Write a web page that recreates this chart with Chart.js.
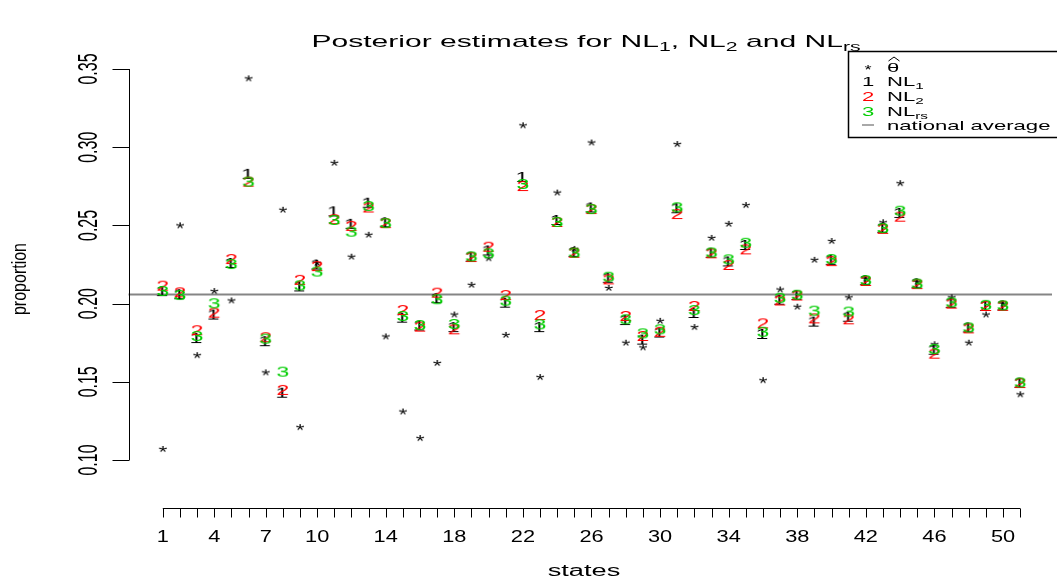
<!DOCTYPE html>
<html>
<head>
<meta charset="utf-8">
<title>Posterior estimates</title>
<script src="https://cdn.jsdelivr.net/npm/chart.js@4.4.1/dist/chart.umd.min.js"></script>
<style>
  html, body { margin: 0; padding: 0; background: #fff; }
  #wrap { width: 1057px; height: 581px; }
</style>
</head>
<body>
<div id="wrap"><canvas id="chart" width="1057" height="581"></canvas></div>
<script>
// states 1..51
var states = [];
for (var i = 1; i <= 51; i++) states.push(i);

// direct estimates (theta hat)
var thetaHat = [0.107, 0.250, 0.167, 0.208, 0.202, 0.344, 0.156, 0.260, 0.121, 0.226,
  0.290, 0.230, 0.244, 0.179, 0.131, 0.114, 0.162, 0.193, 0.212, 0.229,
  0.180, 0.314, 0.153, 0.271, 0.235, 0.303, 0.210, 0.175, 0.172, 0.189,
  0.302, 0.185, 0.242, 0.251, 0.263, 0.151, 0.209, 0.198, 0.228, 0.240,
  0.204, 0.216, 0.252, 0.277, 0.214, 0.174, 0.204, 0.175, 0.193, 0.200,
  0.142];

var nl1 = [0.208, 0.206, 0.178, 0.193, 0.226, 0.283, 0.176, 0.143, 0.211, 0.225,
  0.259, 0.251, 0.2645, 0.252, 0.191, 0.186, 0.2035, 0.185, 0.230, 0.234,
  0.2006, 0.281, 0.185, 0.2535, 0.233, 0.2615, 0.2165, 0.1895, 0.177, 0.1815,
  0.261, 0.194, 0.2325, 0.227, 0.2375, 0.1806, 0.2025, 0.2055, 0.1885, 0.228,
  0.1916, 0.215, 0.2485, 0.258, 0.213, 0.1705, 0.2005, 0.1848, 0.1985, 0.1988,
  0.1494];

var nl2 = [0.2115, 0.2072, 0.183, 0.1942, 0.2285, 0.278, 0.1785, 0.1448, 0.2152, 0.224,
  0.254, 0.2497, 0.2615, 0.2515, 0.1959, 0.1853, 0.207, 0.1836, 0.2298, 0.2364,
  0.2055, 0.2752, 0.1927, 0.2522, 0.2325, 0.2605, 0.2155, 0.1921, 0.1793, 0.182,
  0.2573, 0.1985, 0.2322, 0.2247, 0.2347, 0.1874, 0.202, 0.2052, 0.1906, 0.2272,
  0.190, 0.2145, 0.2478, 0.2556, 0.2125, 0.168, 0.200, 0.1842, 0.1985, 0.1986,
  0.1492];

var nlrs = [0.2081, 0.2055, 0.1793, 0.2002, 0.2253, 0.278, 0.1776, 0.1565, 0.2117, 0.2205,
  0.2535, 0.246, 0.2624, 0.2515, 0.1921, 0.1863, 0.2028, 0.187, 0.2302, 0.2322,
  0.2019, 0.2765, 0.1868, 0.2522, 0.2326, 0.2605, 0.2172, 0.190, 0.181, 0.1836,
  0.2616, 0.1959, 0.2327, 0.2283, 0.2389, 0.182, 0.2037, 0.2057, 0.1955, 0.2285,
  0.1949, 0.215, 0.2483, 0.2594, 0.2128, 0.171, 0.2008, 0.1848, 0.1992, 0.1989,
  0.1496];

var nationalAverage = 0.2058;

var yTicks = [0.10, 0.15, 0.20, 0.25, 0.30, 0.35];
var yTickLabels = ["0.10", "0.15", "0.20", "0.25", "0.30", "0.35"];
var xTickLabels = [1, 4, 7, 10, 14, 18, 22, 26, 30, 34, 38, 42, 46, 50];

var FONT = "'Liberation Sans', Arial, Helvetica, sans-serif";
var SX = 1.7; // text is drawn wide

// a single character as a small canvas, centred on its ink
function glyph(ch, color, size, sx) {
  var c = document.createElement("canvas");
  c.width = 26;
  c.height = 22;
  var g = c.getContext("2d");
  g.font = size + "px " + FONT;
  var m = g.measureText(ch);
  var L = m.actualBoundingBoxLeft, R = m.actualBoundingBoxRight;
  var A = m.actualBoundingBoxAscent, D = m.actualBoundingBoxDescent;
  g.fillStyle = color;
  g.translate(c.width / 2, c.height / 2);
  g.scale(sx, 1);
  g.fillText(ch, -(R - L) / 2, (A - D) / 2);
  return c;
}

function pts(arr) {
  return arr.map(function (v, i) { return { x: states[i], y: v }; });
}

// text with subscripts, stretched horizontally
function richWidth(ctx, parts, size) {
  var w = 0;
  parts.forEach(function (p) {
    ctx.font = (p.sub ? Math.round(size * 0.7) : size) + "px " + FONT;
    w += ctx.measureText(p.t).width;
  });
  return w;
}
function drawRich(ctx, parts, x, y, size, sx, align) {
  ctx.save();
  ctx.translate(x, y);
  ctx.scale(sx, 1);
  var w = richWidth(ctx, parts, size);
  var cx = align === "center" ? -w / 2 : 0;
  ctx.textAlign = "left";
  ctx.textBaseline = "alphabetic";
  parts.forEach(function (p) {
    ctx.font = (p.sub ? Math.round(size * 0.7) : size) + "px " + FONT;
    ctx.fillText(p.t, cx, p.sub ? size * 0.25 : 0);
    cx += ctx.measureText(p.t).width;
  });
  ctx.restore();
}

var rAxes = {
  id: "rAxes",
  beforeDatasetsDraw: function (chart) {
    var ctx = chart.ctx, ys = chart.scales.y, area = chart.chartArea;
    ctx.save();
    // national average
    var ya = ys.getPixelForValue(nationalAverage);
    ctx.strokeStyle = "#858585";
    ctx.lineWidth = 2;
    ctx.beginPath();
    ctx.moveTo(area.left, ya);
    ctx.lineTo(area.right, ya);
    ctx.stroke();
    ctx.restore();
  },
  afterDraw: function (chart) {
    var ctx = chart.ctx, xs = chart.scales.x, ys = chart.scales.y, area = chart.chartArea;
    ctx.save();
    ctx.strokeStyle = "#000";
    ctx.fillStyle = "#000";
    ctx.lineWidth = 1;

    // y axis
    var ax = Math.round(area.left) + 0.5;
    ctx.beginPath();
    ctx.moveTo(ax, ys.getPixelForValue(yTicks[0]));
    ctx.lineTo(ax, ys.getPixelForValue(yTicks[yTicks.length - 1]));
    yTicks.forEach(function (t) {
      var py = Math.round(ys.getPixelForValue(t)) + 0.5;
      ctx.moveTo(ax, py);
      ctx.lineTo(ax - 17, py);
    });
    ctx.stroke();
    ctx.textAlign = "center";
    ctx.textBaseline = "middle";
    ctx.font = "16px " + FONT;
    yTicks.forEach(function (t, i) {
      ctx.save();
      ctx.translate(90, ys.getPixelForValue(t));
      ctx.scale(SX, 1);
      ctx.rotate(-Math.PI / 2);
      ctx.fillText(yTickLabels[i], 0, 0);
      ctx.restore();
    });

    // x axis below the plot
    var by = Math.round(area.bottom) + 0.5;
    ctx.beginPath();
    ctx.moveTo(xs.getPixelForValue(states[0]), by);
    ctx.lineTo(xs.getPixelForValue(states[states.length - 1]), by);
    states.forEach(function (s) {
      var px = Math.round(xs.getPixelForValue(s)) + 0.5;
      ctx.moveTo(px, by);
      ctx.lineTo(px, by + 9);
    });
    ctx.stroke();
    xTickLabels.forEach(function (s) {
      ctx.save();
      ctx.translate(xs.getPixelForValue(s), 538);
      ctx.scale(SX * 0.8, 1);
      ctx.fillText(String(s), 0, 0);
      ctx.restore();
    });

    // axis titles
    ctx.save();
    ctx.translate(584, 572);
    ctx.scale(SX, 1);
    ctx.fillText("states", 0, 0);
    ctx.restore();

    ctx.save();
    ctx.translate(20, 279);
    ctx.scale(SX * 0.75, 1);
    ctx.rotate(-Math.PI / 2);
    ctx.fillText("proportion", 0, 0);
    ctx.restore();

    // main title
    drawRich(ctx, [
      { t: "Posterior estimates for NL" }, { t: "1", sub: true },
      { t: ", NL" }, { t: "2", sub: true },
      { t: " and NL" }, { t: "rs", sub: true }
    ], 586, 47, 17, SX * 1.04, "center");

    // legend
    var lx = 848.5, ly = 51.5;
    ctx.strokeStyle = "#000";
    ctx.lineWidth = 1.5;
    ctx.strokeRect(lx, ly, 1057 - lx + 4, 86);
    var rows = [67, 81, 96, 111, 125];
    var symX = 868, txtX = 887;
    ctx.drawImage(starSmall, symX - starSmall.width / 2, rows[0] - starSmall.height / 2);
    ctx.drawImage(legOne, symX - legOne.width / 2, rows[1] - legOne.height / 2);
    ctx.drawImage(legTwo, symX - legTwo.width / 2, rows[2] - legTwo.height / 2);
    ctx.drawImage(legThree, symX - legThree.width / 2, rows[3] - legThree.height / 2);
    ctx.strokeStyle = "#6e6e6e";
    ctx.lineWidth = 1.2;
    ctx.beginPath();
    ctx.moveTo(symX - 6, rows[4]);
    ctx.lineTo(symX + 6, rows[4]);
    ctx.stroke();

    ctx.fillStyle = "#000";
    // theta with a hat
    drawRich(ctx, [{ t: "\u03b8" }], txtX, rows[0] + 5, 13, 1.7, "left");
    ctx.strokeStyle = "#000";
    ctx.lineWidth = 1;
    ctx.beginPath();
    ctx.moveTo(txtX + 1.5, rows[0] - 6);
    ctx.lineTo(txtX + 7, rows[0] - 10);
    ctx.lineTo(txtX + 12.5, rows[0] - 6);
    ctx.stroke();
    drawRich(ctx, [{ t: "NL" }, { t: "1", sub: true }], txtX, rows[1] + 5, 13, 1.7, "left");
    drawRich(ctx, [{ t: "NL" }, { t: "2", sub: true }], txtX, rows[2] + 5, 13, 1.7, "left");
    drawRich(ctx, [{ t: "NL" }, { t: "rs", sub: true }], txtX, rows[3] + 5, 13, 1.7, "left");
    drawRich(ctx, [{ t: "national average" }], txtX, rows[4] + 5, 13, 1.7, "left");
    ctx.restore();
  }
};

var star = glyph("*", "#000", 16, 1.4);
var one = glyph("1", "#000", 14, 1.65);
var two = glyph("2", "#ff0000", 14, 1.65);
var three = glyph("3", "#00cd00", 14, 1.65);
var starSmall = glyph("*", "#000", 13, 1.4);
var legOne = glyph("1", "#000", 13, 1.7);
var legTwo = glyph("2", "#ff0000", 13, 1.7);
var legThree = glyph("3", "#00cd00", 13, 1.7);

new Chart(document.getElementById("chart").getContext("2d"), {
  type: "scatter",
  data: {
    datasets: [
      { label: "theta", data: pts(thetaHat), pointStyle: star, pointRadius: 4, order: 4 },
      { label: "NL1", data: pts(nl1), pointStyle: one, pointRadius: 4, order: 3 },
      { label: "NL2", data: pts(nl2), pointStyle: two, pointRadius: 4, order: 2 },
      { label: "NLrs", data: pts(nlrs), pointStyle: three, pointRadius: 4, order: 1 }
    ]
  },
  options: {
    responsive: false,
    animation: false,
    devicePixelRatio: 1,
    layout: { padding: { left: 128.5, right: 0, top: 52, bottom: 73 } },
    scales: {
      x: { type: "linear", min: -1, max: 52.855, display: false },
      y: { type: "linear", min: 0.0693, max: 0.3609, display: false }
    },
    plugins: {
      legend: { display: false },
      tooltip: { enabled: false }
    }
  },
  plugins: [rAxes]
});
</script>
</body>
</html>
